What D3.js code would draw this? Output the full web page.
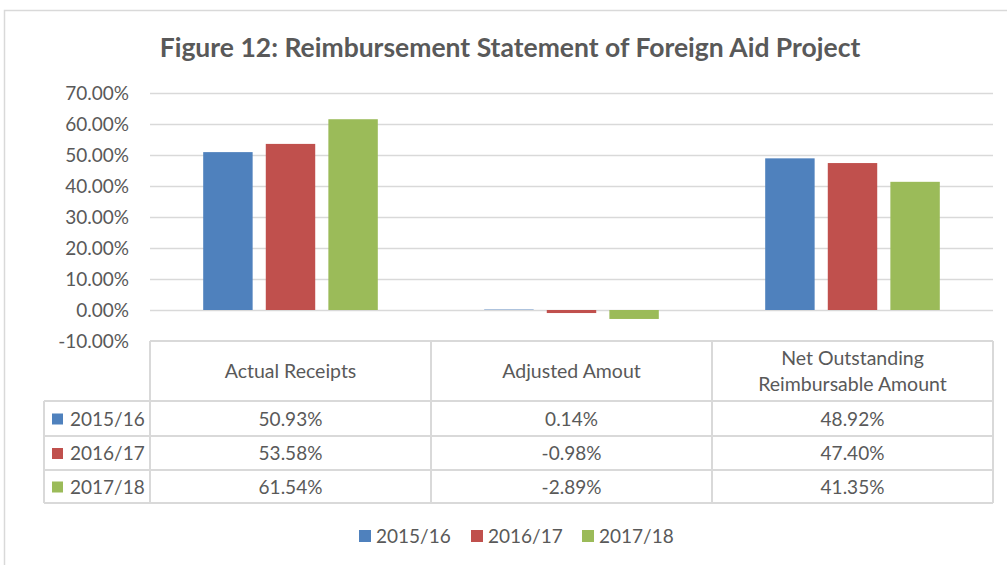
<!DOCTYPE html>
<html>
<head>
<meta charset="utf-8">
<script src="https://cdn.jsdelivr.net/npm/d3@7"></script>
<style>
  body { margin: 0; background: #fff; }
  svg text { font-family: Lato, "Open Sans", sans-serif; fill: #595959; }
</style>
</head>
<body>
<svg id="chart" width="1007" height="565"></svg>
<script>
// data
const categories = ["Actual Receipts", "Adjusted Amout", "Net Outstanding\nReimbursable Amount"];
const seriesNames = ["2015/16", "2016/17", "2017/18"];
const values2015 = [50.93, 0.14, 48.92];
const values2016 = [53.58, -0.98, 47.40];
const values2017 = [61.54, -2.89, 41.35];
const yTicks = [-10, 0, 10, 20, 30, 40, 50, 60, 70];
const colors = ["#4F81BD", "#C0504D", "#9BBB59"];

const series = [values2015, values2016, values2017];

const svg = d3.select("#chart");
const grid = "#D9D9D9";

// outer chart border
svg.append("rect")
    .attr("x", 4.5).attr("y", 10.5)
    .attr("width", 1010).attr("height", 600)
    .attr("fill", "none").attr("stroke", grid).attr("stroke-width", 1.5);

// title
svg.append("text")
    .attr("x", 510).attr("y", 57)
    .attr("text-anchor", "middle")
    .style("font-size", "26.5px").style("font-weight", "bold")
    .text("Figure 12: Reimbursement Statement of Foreign Aid Project");

const x0 = d3.scaleBand().domain(categories).range([150, 993]);
const x1 = d3.scaleBand().domain(seriesNames).range([0, x0.bandwidth()])
    .paddingInner(0.21).paddingOuter(0.85);
const y = d3.scaleLinear().domain([-10, 70]).range([341, 93]);

// gridlines
svg.append("g").selectAll("line")
    .data(yTicks.filter(d => d > -10))
    .join("line")
    .attr("x1", 150).attr("x2", 993)
    .attr("y1", d => Math.round(y(d)) + 0.5).attr("y2", d => Math.round(y(d)) + 0.5)
    .attr("stroke", grid).attr("stroke-width", 1.5);

// y axis labels
svg.append("g").selectAll("text")
    .data(yTicks)
    .join("text")
    .attr("x", 129).attr("y", d => y(d) + 7)
    .attr("text-anchor", "end")
    .style("font-size", "19px")
    .text(d => d.toFixed(2) + "%");

// bars
const groups = svg.append("g").selectAll("g")
    .data(categories)
    .join("g")
    .attr("transform", d => `translate(${x0(d)},0)`);

groups.selectAll("rect")
    .data((c, ci) => seriesNames.map((s, si) => ({ s, v: series[si][ci], color: colors[si] })))
    .join("rect")
    .attr("x", d => x1(d.s))
    .attr("width", x1.bandwidth())
    .attr("y", d => y(Math.max(0, d.v)))
    .attr("height", d => Math.abs(y(d.v) - y(0)))
    .attr("fill", d => d.color);

// data table
const tableTop = 341, headerBottom = 401;
const rowLines = [401, 436, 470, 503];
const tbl = svg.append("g").attr("stroke", grid).attr("stroke-width", 2);
tbl.append("line").attr("x1", 150).attr("x2", 993).attr("y1", tableTop).attr("y2", tableTop);
rowLines.forEach(ry => {
    tbl.append("line").attr("x1", 44).attr("x2", 993).attr("y1", ry).attr("y2", ry);
});
[150, 431, 712, 993].forEach(vx => {
    tbl.append("line").attr("x1", vx).attr("x2", vx).attr("y1", tableTop).attr("y2", 503);
});
tbl.append("line").attr("x1", 44).attr("x2", 44).attr("y1", headerBottom).attr("y2", 503);

// header labels
categories.forEach(c => {
    const lines = c.split("\n");
    const cx = x0(c) + x0.bandwidth() / 2;
    const mid = (tableTop + headerBottom) / 2;
    lines.forEach((l, i) => {
        svg.append("text")
            .attr("x", cx)
            .attr("y", mid + 7 + (i - (lines.length - 1) / 2) * 26)
            .attr("text-anchor", "middle")
            .style("font-size", "19.5px")
            .text(l);
    });
});

// table rows
seriesNames.forEach((s, si) => {
    const cy = (rowLines[si] + rowLines[si + 1]) / 2;
    svg.append("rect").attr("x", 52).attr("y", cy - 5).attr("width", 11).attr("height", 11).attr("fill", colors[si]);
    svg.append("text").attr("x", 70).attr("y", cy + 7).style("font-size", "19px").text(s);
    categories.forEach((c, ci) => {
        svg.append("text")
            .attr("x", x0(c) + x0.bandwidth() / 2)
            .attr("y", cy + 7)
            .attr("text-anchor", "middle")
            .style("font-size", "19px")
            .text(series[si][ci].toFixed(2) + "%");
    });
});

// legend
const legendX = [359, 471, 582];
seriesNames.forEach((s, si) => {
    svg.append("rect").attr("x", legendX[si]).attr("y", 530).attr("width", 12).attr("height", 12).attr("fill", colors[si]);
    svg.append("text").attr("x", legendX[si] + 17).attr("y", 543).style("font-size", "19px").text(s);
});
</script>
</body>
</html>
